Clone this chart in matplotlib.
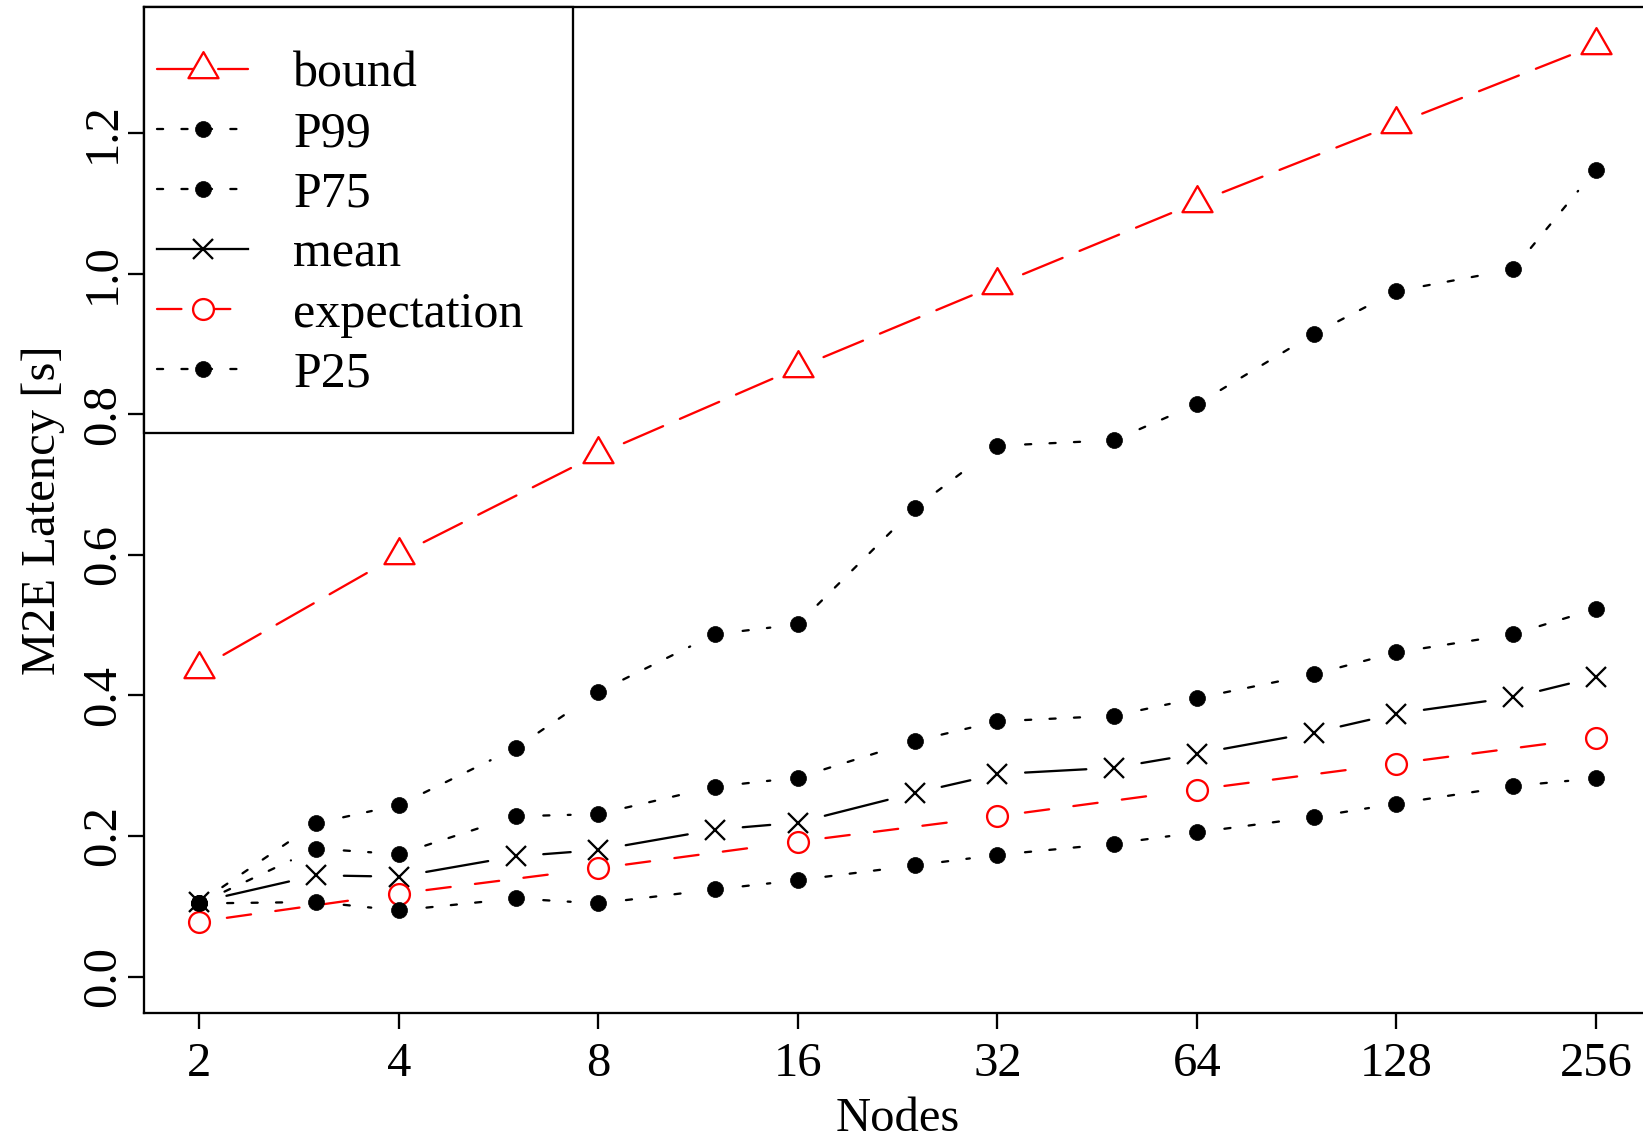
import matplotlib
matplotlib.use("Agg")
import matplotlib.pyplot as plt
from matplotlib.lines import Line2D
from matplotlib.patches import Rectangle
from matplotlib.path import Path

plt.rcParams['font.family'] = ['Liberation Serif', 'DejaVu Serif']
plt.rcParams['lines.scale_dashes'] = False

# ---------------- data ----------------
nodes_all = [2, 3, 4, 6, 8, 12, 16, 24, 32, 48, 64, 96, 128, 192, 256]
nodes_pow2 = [2, 4, 8, 16, 32, 64, 128, 256]

bound = [0.438, 0.600, 0.743, 0.866, 0.984, 1.101, 1.213, 1.325]
expectation = [0.078, 0.118, 0.154, 0.192, 0.228, 0.266, 0.303, 0.340]

p99 = [0.105, 0.218, 0.244, 0.325, 0.405, 0.487, 0.501, 0.666, 0.755, 0.763,
       0.814, 0.914, 0.975, 1.006, 1.148]
p75 = [0.104, 0.182, 0.174, 0.228, 0.231, 0.270, 0.283, 0.335, 0.363, 0.371,
       0.396, 0.430, 0.461, 0.487, 0.523]
mean = [0.106, 0.144, 0.142, 0.171, 0.180, 0.209, 0.219, 0.261, 0.288, 0.297,
        0.317, 0.347, 0.374, 0.397, 0.426]
p25 = [0.104, 0.106, 0.094, 0.111, 0.104, 0.124, 0.137, 0.158, 0.173, 0.189,
       0.205, 0.227, 0.246, 0.271, 0.282]

xticks = [2, 4, 8, 16, 32, 64, 128, 256]
xticklabels = ['2', '4', '8', '16', '32', '64', '128', '256']
yticks = [0.0, 0.2, 0.4, 0.6, 0.8, 1.0, 1.2]
yticklabels = ['0.0', '0.2', '0.4', '0.6', '0.8', '1.0', '1.2']

# ---------------- styles ----------------
RED = '#FF0000'
LW = 1.65
FS = 35
LFS = 36
U = 4.4  # dash unit in points
DOTTED = (0, (U, 3 * U))
DASHED = (0, (4 * U, 4 * U))
LONGDASH = (0, (7 * U, 3 * U))
SHRINK = 20

tri = Path([(0, 0.57735), (-0.5, -0.288675), (0.5, -0.288675), (0, 0.57735)],
           [Path.MOVETO, Path.LINETO, Path.LINETO, Path.CLOSEPOLY])

series = [
    dict(label='bound', x=nodes_pow2, y=bound, color=RED, ls=LONGDASH,
         marker=tri, ms=25, mfc='none', mew=LW),
    dict(label='P99', x=nodes_all, y=p99, color='black', ls=DOTTED,
         marker='o', ms=11.5, mfc='black', mew=0.5),
    dict(label='P75', x=nodes_all, y=p75, color='black', ls=DOTTED,
         marker='o', ms=11.5, mfc='black', mew=0.5),
    dict(label='mean', x=nodes_all, y=mean, color='black', ls='-',
         marker='x', ms=15, mfc='none', mew=LW),
    dict(label='expectation', x=nodes_pow2, y=expectation, color=RED, ls=DASHED,
         marker='o', ms=15, mfc='none', mew=LW),
    dict(label='P25', x=nodes_all, y=p25, color='black', ls=DOTTED,
         marker='o', ms=11.5, mfc='black', mew=0.5),
]

W, H = 1643, 1139
fig = plt.figure(figsize=(W / 100, H / 100), dpi=100)

ax_left_px, ax_bottom_px, ax_top_px = 143.5, 1013, 7
lx0, lx1 = 0.72, 8.28
px_per_oct = 199.5
ax_w_px = (lx1 - lx0) * px_per_oct
ax = fig.add_axes([ax_left_px / W, (H - ax_bottom_px) / H,
                   ax_w_px / W, (ax_bottom_px - ax_top_px) / H])
ax.set_xscale('log', base=2)
ax.set_xlim(2 ** lx0, 2 ** lx1)
ax.set_ylim(-0.0519, 1.3792)

handles = []
for s in series:
    xs, ys = s['x'], s['y']
    for i in range(len(xs) - 1):
        ax.annotate('', xy=(xs[i + 1], ys[i + 1]), xytext=(xs[i], ys[i]),
                    xycoords='data', textcoords='data',
                    arrowprops=dict(arrowstyle='-', shrinkA=SHRINK, shrinkB=SHRINK,
                                    color=s['color'], lw=LW, linestyle=s['ls'],
                                    capstyle='round'),
                    annotation_clip=False)
    ax.plot(xs, ys, linestyle='none', marker=s['marker'], markersize=s['ms'],
            markerfacecolor=s['mfc'], markeredgecolor=s['color'],
            markeredgewidth=s['mew'], clip_on=False, zorder=3)
    mfc_leg = 'white' if s['mfc'] == 'none' else s['mfc']
    handles.append(Line2D([], [], color=s['color'], lw=LW, linestyle=s['ls'],
                          marker=s['marker'], markersize=s['ms'],
                          markerfacecolor=mfc_leg, markeredgecolor=s['color'],
                          markeredgewidth=s['mew'], dash_capstyle='round',
                          label=s['label']))

# axes styling
for side in ['left', 'bottom', 'top', 'right']:
    ax.spines[side].set_linewidth(LW)
ax.set_xticks(xticks)
ax.set_xticklabels(xticklabels)
ax.xaxis.set_minor_locator(matplotlib.ticker.NullLocator())
ax.set_yticks(yticks)
ax.set_yticklabels(yticklabels)
ax.tick_params(axis='both', direction='out', length=11.5, width=LW,
               labelsize=FS, colors='black')
ax.tick_params(axis='x', pad=9.5)
ax.tick_params(axis='y', pad=2, labelrotation=90)
for lab in ax.get_yticklabels():
    lab.set_verticalalignment('center')
ax.set_xlabel('Nodes', fontsize=FS, labelpad=8)
ax.set_ylabel('M2E Latency [s]', fontsize=FS, labelpad=11)

# legend frame
ax_h_px = ax_bottom_px - ax_top_px
frame = Rectangle((0, 1 - (432.7 - 7) / ax_h_px), (573.3 - 143.5) / ax_w_px,
                  (432.7 - 7) / ax_h_px, transform=ax.transAxes,
                  facecolor='white', edgecolor='black', lw=LW, zorder=4,
                  clip_on=False)
ax.add_patch(frame)

leg = ax.legend(handles=handles, loc='center left',
                bbox_to_anchor=((156.7 - 143.5) / ax_w_px, (ax_bottom_px - 224.5) / ax_h_px),
                frameon=False, fontsize=LFS, borderpad=0, borderaxespad=0,
                handlelength=91.7 / (LFS * 100 / 72), handletextpad=0.90,
                labelspacing=0.27, numpoints=1)
leg.set_zorder(5)

fig.savefig('out.png', dpi=100)
